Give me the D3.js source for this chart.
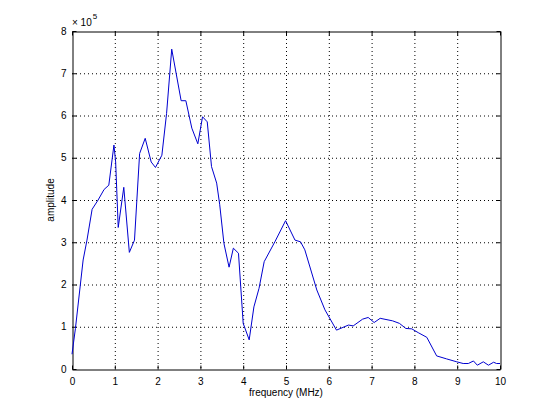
<!DOCTYPE html>
<html>
<head>
<meta charset="utf-8">
<script src="https://cdn.jsdelivr.net/npm/d3@7"></script>
<style>
  body { margin: 0; background: #fff; }
  svg text { font-family: "Liberation Sans", Arial, sans-serif; fill: #000; }
</style>
</head>
<body>
<svg id="chart" width="553" height="415"></svg>
<script>
// frequency (MHz) and amplitude (x 1e5)
var freqs = [0, 0.08, 0.26, 0.35, 0.47, 0.61, 0.75, 0.86, 0.98, 1.02, 1.08, 1.21, 1.34, 1.46, 1.58, 1.71, 1.85, 1.95,
  2.1, 2.21, 2.33, 2.55, 2.66, 2.8, 2.94, 3.05, 3.16, 3.26, 3.38, 3.45, 3.55, 3.67, 3.77, 3.89, 4.0, 4.14, 4.25,
  4.37, 4.49, 4.74, 4.99, 5.21, 5.34, 5.44, 5.72, 5.91, 6.18, 6.46, 6.57, 6.79, 6.92, 7.06, 7.2, 7.49, 7.65, 7.8,
  7.94, 8.09, 8.29, 8.52, 8.75, 8.99, 9.14, 9.26, 9.38, 9.47, 9.61, 9.73, 9.85, 9.92, 10];
var amps = [0.35, 0.96, 2.58, 3.05, 3.78, 4.0, 4.25, 4.35, 5.3, 4.9, 3.35, 4.3, 2.76, 3.05, 5.1, 5.46, 4.9, 4.77,
  5.06, 6.05, 7.57, 6.35, 6.35, 5.7, 5.33, 5.97, 5.85, 4.79, 4.4, 3.9, 2.97, 2.41, 2.86, 2.74, 1.08, 0.69, 1.47,
  1.91, 2.54, 3.01, 3.51, 3.05, 3.01, 2.82, 1.87, 1.4, 0.92, 1.04, 1.02, 1.18, 1.22, 1.1, 1.2, 1.14, 1.08, 0.96,
  0.95, 0.86, 0.75, 0.31, 0.24, 0.17, 0.13, 0.13, 0.19, 0.09, 0.17, 0.09, 0.16, 0.13, 0.13];
var xTicks = [0, 1, 2, 3, 4, 5, 6, 7, 8, 9, 10];
var yTicks = [0, 1, 2, 3, 4, 5, 6, 7, 8];

var svg = d3.select("#chart");
var plotLeft = 72, plotRight = 500, plotTop = 31, plotBottom = 369;

var x = d3.scaleLinear().domain([0, 10]).range([plotLeft, plotRight]);
var y = d3.scaleLinear().domain([0, 8]).range([plotBottom, plotTop]);

// dotted grid
var grid = svg.append("g").attr("stroke", "#000").attr("stroke-dasharray", "1,3").attr("stroke-width", 1);
xTicks.slice(1, -1).forEach(function(t) {
  grid.append("line").attr("x1", x(t) + 0.5).attr("x2", x(t) + 0.5).attr("y1", plotTop).attr("y2", plotBottom);
});
yTicks.slice(1, -1).forEach(function(t) {
  grid.append("line").attr("y1", y(t) + 0.5).attr("y2", y(t) + 0.5).attr("x1", plotLeft).attr("x2", plotRight);
});

// axes with inward ticks, box on all sides
var xAxis = svg.append("g").attr("transform", "translate(0," + (plotBottom + 0.5) + ")")
  .call(d3.axisBottom(x).tickValues(xTicks).tickSizeInner(-4).tickSizeOuter(0).tickPadding(6));
var xTop = svg.append("g").attr("transform", "translate(0," + (plotTop + 0.5) + ")")
  .call(d3.axisTop(x).tickValues(xTicks).tickSizeInner(-4).tickSizeOuter(0).tickFormat(""));
var yAxis = svg.append("g").attr("transform", "translate(" + (plotLeft + 0.5) + ",0)")
  .call(d3.axisLeft(y).tickValues(yTicks).tickSizeInner(-4).tickSizeOuter(0).tickPadding(6));
var yRight = svg.append("g").attr("transform", "translate(" + (plotRight + 0.5) + ",0)")
  .call(d3.axisRight(y).tickValues(yTicks).tickSizeInner(-4).tickSizeOuter(0).tickFormat(""));

[xAxis, xTop, yAxis, yRight].forEach(function(a) {
  a.selectAll("path, line").attr("stroke", "#000");
  a.selectAll("text").attr("font-size", 10).attr("font-family", "Liberation Sans, Arial, sans-serif");
});
xAxis.selectAll("text").attr("dy", "0.9em");

// data line
var line = d3.line().x(function(d, i) { return x(freqs[i]); }).y(function(d) { return y(d); });
svg.append("path").datum(amps)
  .attr("d", line)
  .attr("fill", "none")
  .attr("stroke", "#0000d0")
  .attr("stroke-width", 1);

// exponent label
var ex = svg.append("text").attr("x", plotLeft).attr("y", 26).attr("font-size", 10);
ex.append("tspan").text("\u00d7 10");
ex.append("tspan").attr("dy", -7).attr("dx", 1).attr("font-size", 8).text("5");

// axis titles
svg.append("text").attr("x", (plotLeft + plotRight) / 2).attr("y", 396).attr("text-anchor", "middle")
  .attr("font-size", 10).text("frequency (MHz)");
svg.append("text").attr("transform", "translate(54," + ((plotTop + plotBottom) / 2) + ") rotate(-90)")
  .attr("text-anchor", "middle").attr("font-size", 10).text("amplitude");
</script>
</body>
</html>
